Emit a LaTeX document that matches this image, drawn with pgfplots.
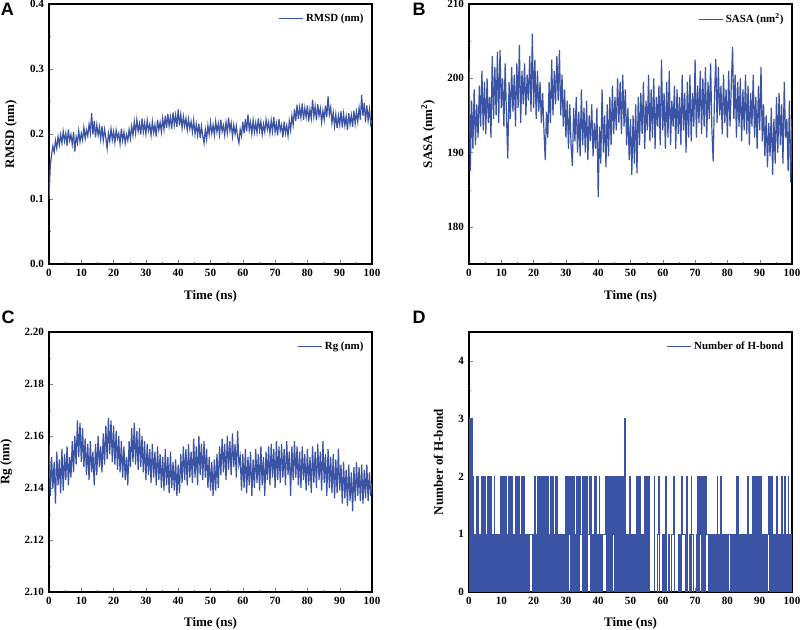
\documentclass[border=0pt]{standalone}
\usepackage{fontspec}
\setmainfont{Liberation Serif}
\newfontfamily\arial{Liberation Sans}
\usepackage{pgfplots}
\pgfplotsset{compat=1.18}
\definecolor{lblue}{RGB}{58,83,164}
\pgfplotsset{
 panel/.style={
  scale only axis, width=242.25pt, height=195pt, anchor=south west,
  xmin=0, xmax=100, xtick={0,10,20,30,40,50,60,70,80,90,100}, minor x tick num=1,
  tick align=inside, xtick pos=bottom, ytick pos=left,
  major tick length=3pt, minor tick length=1.6pt,
  line width=0.8pt,
  tick label style={font=\fontsize{8.3}{9}\selectfont\bfseries},
  /pgf/number format/assume math mode=true,
  label style={font=\fontsize{9.75}{11}\selectfont\bfseries},
  xlabel={Time (ns)},
  xlabel style={at={(axis description cs:0.5,-0.123)}, anchor=center},
  legend style={at={(1,1)}, anchor=north east, draw=none, fill=none,
    font=\fontsize{8.2}{9}\selectfont\bfseries, xshift=-1pt, yshift=-3pt},
  legend image code/.code={\draw[#1,line width=0.8pt] (0pt,0pt) -- (18pt,0pt);},
  scaled ticks=false,
 }
}
\begin{document}
\begin{tikzpicture}
\path[use as bounding box] (0,0) rectangle (600pt,-472.5pt);
\node[font=\arial\bfseries\fontsize{13.5}{14}\selectfont] at (5.6pt,-6.75pt) {A};
\node[font=\arial\bfseries\fontsize{13.5}{14}\selectfont] at (314.25pt,-6.75pt) {B};
\node[font=\arial\bfseries\fontsize{13.5}{14}\selectfont] at (6pt,-238pt) {C};
\node[font=\arial\bfseries\fontsize{13.5}{14}\selectfont] at (314.25pt,-238pt) {D};

% ---------------- A: RMSD
\begin{axis}[panel, at={(36.75pt,-198pt)},
  ymin=0, ymax=0.4, ytick={0,0.1,0.2,0.3,0.4}, minor y tick num=1,
  yticklabel style={/pgf/number format/.cd, fixed, fixed zerofill, precision=1},
  ylabel={RMSD (nm)}, ylabel style={at={(axis description cs:-0.1176,0.5)}, anchor=center}]
\addplot[lblue, line width=0.9pt] coordinates {
(0,0.100)(0.4,0.152)(0.8,0.168)(1.2,0.181)(1.6,0.172)(2,0.190)(2.4,0.178)(2.8,0.196)(3.2,0.183)(3.6,0.199)
(4,0.186)(4.4,0.204)(4.8,0.189)(5.2,0.201)(5.6,0.182)(6,0.207)(6.4,0.190)(6.8,0.199)(7.2,0.184)(7.6,0.203)
(8,0.173)(8.4,0.196)(8.8,0.186)(9.2,0.205)(9.6,0.188)(10,0.201)(10.4,0.191)(10.8,0.210)(11.2,0.193)(11.6,0.206)
(12,0.197)(12.4,0.215)(12.8,0.201)(13.2,0.232)(13.6,0.199)(14,0.220)(14.4,0.195)(14.8,0.214)(15.2,0.198)(15.6,0.211)
(16,0.192)(16.4,0.212)(16.8,0.190)(17.2,0.207)(17.6,0.194)(18,0.178)(18.4,0.201)(18.8,0.189)(19.2,0.208)(19.6,0.191)
(20,0.204)(20.4,0.187)(20.8,0.206)(21.2,0.193)(21.6,0.201)(22,0.185)(22.4,0.208)(22.8,0.190)(23.2,0.203)(23.6,0.186)
(24,0.199)(24.4,0.190)(24.8,0.207)(25.2,0.193)(25.6,0.212)(26,0.198)(26.4,0.219)(26.8,0.201)(27.2,0.222)(27.6,0.204)
(28,0.216)(28.4,0.199)(28.8,0.224)(29.2,0.203)(29.6,0.217)(30,0.200)(30.4,0.221)(30.8,0.205)(31.2,0.215)(31.6,0.198)
(32,0.219)(32.4,0.202)(32.8,0.214)(33.2,0.196)(33.6,0.222)(34,0.206)(34.4,0.218)(34.8,0.203)(35.2,0.224)(35.6,0.207)
(36,0.228)(36.4,0.209)(36.8,0.231)(37.2,0.212)(37.6,0.226)(38,0.208)(38.4,0.233)(38.8,0.214)(39.2,0.229)(39.6,0.211)
(40,0.238)(40.4,0.213)(40.8,0.230)(41.2,0.209)(41.6,0.227)(42,0.212)(42.4,0.224)(42.8,0.206)(43.2,0.223)(43.6,0.208)
(44,0.219)(44.4,0.203)(44.8,0.221)(45.2,0.200)(45.6,0.215)(46,0.198)(46.4,0.216)(46.8,0.194)(47.2,0.212)(47.6,0.197)
(48,0.186)(48.4,0.207)(48.8,0.192)(49.2,0.213)(49.6,0.199)(50,0.218)(50.4,0.201)(50.8,0.214)(51.2,0.198)(51.6,0.219)
(52,0.203)(52.4,0.216)(52.8,0.199)(53.2,0.222)(53.6,0.204)(54,0.213)(54.4,0.198)(54.8,0.218)(55.2,0.202)(55.6,0.225)
(56,0.205)(56.4,0.217)(56.8,0.196)(57.2,0.214)(57.6,0.200)(58,0.212)(58.4,0.195)(58.8,0.186)(59.2,0.207)(59.6,0.197)
(60,0.219)(60.4,0.201)(60.8,0.223)(61.2,0.204)(61.6,0.230)(62,0.206)(62.4,0.218)(62.8,0.200)(63.2,0.221)(63.6,0.203)
(64,0.217)(64.4,0.202)(64.8,0.224)(65.2,0.205)(65.6,0.219)(66,0.199)(66.4,0.215)(66.8,0.203)(67.2,0.222)(67.6,0.207)
(68,0.218)(68.4,0.201)(68.8,0.221)(69.2,0.204)(69.6,0.226)(70,0.203)(70.4,0.216)(70.8,0.198)(71.2,0.223)(71.6,0.205)
(72,0.214)(72.4,0.195)(72.8,0.219)(73.2,0.201)(73.6,0.213)(74,0.197)(74.4,0.220)(74.8,0.206)(75.2,0.228)(75.6,0.214)
(76,0.238)(76.4,0.220)(76.8,0.245)(77.2,0.223)(77.6,0.241)(78,0.225)(78.4,0.247)(78.8,0.222)(79.2,0.240)(79.6,0.226)
(80,0.244)(80.4,0.219)(80.8,0.238)(81.2,0.224)(81.6,0.253)(82,0.227)(82.4,0.242)(82.8,0.221)(83.2,0.246)(83.6,0.228)
(84,0.239)(84.4,0.218)(84.8,0.236)(85.2,0.222)(85.6,0.244)(86,0.226)(86.4,0.258)(86.8,0.230)(87.2,0.241)(87.6,0.217)
(88,0.233)(88.4,0.212)(88.8,0.230)(89.2,0.209)(89.6,0.228)(90,0.214)(90.4,0.235)(90.8,0.210)(91.2,0.231)(91.6,0.213)
(92,0.227)(92.4,0.206)(92.8,0.232)(93.2,0.215)(93.6,0.229)(94,0.211)(94.4,0.236)(94.8,0.216)(95.2,0.234)(95.6,0.219)
(96,0.240)(96.4,0.222)(96.8,0.260)(97.2,0.228)(97.6,0.248)(98,0.218)(98.4,0.244)(98.8,0.221)(99.2,0.238)(99.6,0.215)
(100,0.222)};
\addlegendentry{RMSD (nm)}
\end{axis}

% ---------------- B: SASA
\begin{axis}[panel, at={(351.75pt,-198pt)},
  ymin=175, ymax=210, ytick={180,190,200,210}, minor y tick num=1,
  ylabel={SASA (nm\textsuperscript{2})}, ylabel style={at={(axis description cs:-0.127,0.5)}, anchor=center}]
\addplot[lblue, line width=0.9pt] coordinates {
(0,202.5)(0.4,187.5)(0.8,197.0)(1.2,190.5)(1.6,198.5)(2,191.0)(2.4,196.5)(2.8,192.0)(3.2,199.0)(3.6,193.5)
(4,201.0)(4.4,193.0)(4.8,199.5)(5.2,192.5)(5.6,200.0)(6,194.0)(6.4,197.5)(6.8,192.0)(7.2,203.0)(7.6,194.5)
(8,201.5)(8.4,195.0)(8.8,203.6)(9.2,194.0)(9.6,203.8)(10,196.0)(10.4,200.0)(10.8,193.5)(11.2,202.0)(11.6,195.0)
(12,189.2)(12.4,199.5)(12.8,194.5)(13.2,201.5)(13.6,195.5)(14,200.5)(14.4,193.5)(14.8,202.0)(15.2,196.0)(15.6,204.5)
(16,194.0)(16.4,201.0)(16.8,196.5)(17.2,202.0)(17.6,195.0)(18,200.5)(18.4,197.0)(18.8,203.0)(19.2,195.5)(19.6,206.0)
(20,196.0)(20.4,202.5)(20.8,194.5)(21.2,201.0)(21.6,195.5)(22,199.5)(22.4,194.0)(22.8,198.0)(23.2,193.0)(23.6,189.0)
(24,195.5)(24.4,192.0)(24.8,199.5)(25.2,194.0)(25.6,202.5)(26,195.0)(26.4,201.0)(26.8,196.5)(27.2,203.0)(27.6,197.0)
(28,203.8)(28.4,195.0)(28.8,200.5)(29.2,193.5)(29.6,198.5)(30,192.0)(30.4,197.0)(30.8,190.5)(31.2,196.5)(31.6,191.0)
(32,188.2)(32.4,196.0)(32.8,191.5)(33.2,197.5)(33.6,190.0)(34,195.5)(34.4,189.5)(34.8,198.5)(35.2,191.0)(35.6,196.0)
(36,190.0)(36.4,197.0)(36.8,189.0)(37.2,195.0)(37.6,191.5)(38,196.5)(38.4,189.5)(38.8,194.0)(39.2,190.5)(39.6,196.0)
(40,184.0)(40.4,193.5)(40.8,188.5)(41.2,198.5)(41.6,190.0)(42,195.0)(42.4,188.0)(42.8,196.5)(43.2,189.5)(43.6,197.5)
(44,191.0)(44.4,199.0)(44.8,192.5)(45.2,197.5)(45.6,193.0)(46,200.0)(46.4,194.0)(46.8,199.5)(47.2,192.5)(47.6,200.5)
(48,193.5)(48.4,198.5)(48.8,191.0)(49.2,196.0)(49.6,189.0)(50,194.5)(50.4,187.0)(50.8,195.0)(51.2,188.5)(51.6,196.5)
(52,187.2)(52.4,197.5)(52.8,191.0)(53.2,198.0)(53.6,192.5)(54,199.5)(54.4,190.5)(54.8,197.0)(55.2,193.0)(55.6,200.5)
(56,191.5)(56.4,198.5)(56.8,192.0)(57.2,200.0)(57.6,190.5)(58,197.5)(58.4,193.5)(58.8,199.0)(59.2,191.0)(59.6,202.5)
(60,193.0)(60.4,198.0)(60.8,190.5)(61.2,199.5)(61.6,192.0)(62,201.0)(62.4,191.0)(62.8,197.0)(63.2,193.5)(63.6,199.0)
(64,190.5)(64.4,198.5)(64.8,192.5)(65.2,197.5)(65.6,191.0)(66,200.5)(66.4,193.0)(66.8,198.0)(67.2,190.0)(67.6,199.5)
(68,192.0)(68.4,200.5)(68.8,191.5)(69.2,198.0)(69.6,193.5)(70,202.5)(70.4,192.0)(70.8,199.0)(71.2,194.0)(71.6,201.0)
(72,192.5)(72.4,200.0)(72.8,193.5)(73.2,201.5)(73.6,192.0)(74,199.5)(74.4,194.5)(74.8,202.0)(75.2,193.0)(75.6,188.8)
(76,197.5)(76.4,202.6)(76.8,194.0)(77.2,201.5)(77.6,195.0)(78,199.0)(78.4,192.5)(78.8,200.5)(79.2,194.0)(79.6,198.5)
(80,192.0)(80.4,201.0)(80.8,193.5)(81.2,199.0)(81.6,204.2)(82,194.5)(82.4,200.5)(82.8,192.0)(83.2,199.5)(83.6,193.5)
(84,200.0)(84.4,191.5)(84.8,198.5)(85.2,193.0)(85.6,200.5)(86,192.5)(86.4,199.0)(86.8,191.0)(87.2,198.0)(87.6,193.5)
(88,200.5)(88.4,192.0)(88.8,197.5)(89.2,190.5)(89.6,199.0)(90,193.0)(90.4,201.5)(90.8,191.5)(91.2,196.5)(91.6,189.5)
(92,195.0)(92.4,188.0)(92.8,194.0)(93.2,189.5)(93.6,196.0)(94,187.0)(94.4,194.5)(94.8,188.5)(95.2,197.5)(95.6,190.0)
(96,198.0)(96.4,191.0)(96.8,196.5)(97.2,188.5)(97.6,199.5)(98,192.0)(98.4,194.5)(98.8,187.5)(99.2,197.0)(99.6,186.0)
(100,194.5)};
\addlegendentry{SASA (nm\textsuperscript{2})}
\end{axis}

% ---------------- C: Rg
\begin{axis}[panel, at={(36.75pt,-444pt)},
  ymin=2.10, ymax=2.20, ytick={2.10,2.12,2.14,2.16,2.18,2.20}, minor y tick num=1,
  yticklabel style={/pgf/number format/.cd, fixed, fixed zerofill, precision=2},
  xlabel style={at={(axis description cs:0.5,-0.119)}},
  ylabel={Rg (nm)}, ylabel style={at={(axis description cs:-0.132,0.5)}, anchor=center}]
\addplot[lblue, line width=0.9pt] coordinates {
(0,2.157)(0.4,2.137)(0.8,2.152)(1.2,2.140)(1.6,2.150)(2,2.134)(2.4,2.154)(2.8,2.141)(3.2,2.151)(3.6,2.138)
(4,2.155)(4.4,2.139)(4.8,2.153)(5.2,2.143)(5.6,2.156)(6,2.141)(6.4,2.152)(6.8,2.144)(7.2,2.158)(7.6,2.146)
(8,2.160)(8.4,2.149)(8.8,2.166)(9.2,2.152)(9.6,2.165)(10,2.150)(10.4,2.163)(10.8,2.148)(11.2,2.159)(11.6,2.145)
(12,2.157)(12.4,2.143)(12.8,2.158)(13.2,2.146)(13.6,2.154)(14,2.141)(14.4,2.157)(14.8,2.145)(15.2,2.160)(15.6,2.148)
(16,2.156)(16.4,2.146)(16.8,2.161)(17.2,2.149)(17.6,2.164)(18,2.151)(18.4,2.167)(18.8,2.153)(19.2,2.166)(19.6,2.150)
(20,2.164)(20.4,2.149)(20.8,2.162)(21.2,2.147)(21.6,2.160)(22,2.146)(22.4,2.158)(22.8,2.144)(23.2,2.156)(23.6,2.143)
(24,2.152)(24.4,2.141)(24.8,2.158)(25.2,2.148)(25.6,2.163)(26,2.150)(26.4,2.165)(26.8,2.149)(27.2,2.162)(27.6,2.147)
(28,2.163)(28.4,2.148)(28.8,2.160)(29.2,2.146)(29.6,2.158)(30,2.143)(30.4,2.157)(30.8,2.145)(31.2,2.155)(31.6,2.142)
(32,2.157)(32.4,2.144)(32.8,2.154)(33.2,2.141)(33.6,2.156)(34,2.143)(34.4,2.153)(34.8,2.140)(35.2,2.152)(35.6,2.139)
(36,2.155)(36.4,2.141)(36.8,2.152)(37.2,2.138)(37.6,2.154)(38,2.140)(38.4,2.150)(38.8,2.139)(39.2,2.151)(39.6,2.137)
(40,2.149)(40.4,2.138)(40.8,2.153)(41.2,2.142)(41.6,2.156)(42,2.143)(42.4,2.155)(42.8,2.141)(43.2,2.157)(43.6,2.144)
(44,2.154)(44.4,2.142)(44.8,2.159)(45.2,2.144)(45.6,2.156)(46,2.141)(46.4,2.160)(46.8,2.145)(47.2,2.157)(47.6,2.143)
(48,2.158)(48.4,2.144)(48.8,2.155)(49.2,2.140)(49.6,2.152)(50,2.139)(50.4,2.150)(50.8,2.137)(51.2,2.151)(51.6,2.139)
(52,2.153)(52.4,2.140)(52.8,2.156)(53.2,2.145)(53.6,2.159)(54,2.146)(54.4,2.157)(54.8,2.143)(55.2,2.160)(55.6,2.147)
(56,2.158)(56.4,2.145)(56.8,2.161)(57.2,2.148)(57.6,2.157)(58,2.144)(58.4,2.162)(58.8,2.149)(59.2,2.152)(59.6,2.139)
(60,2.153)(60.4,2.140)(60.8,2.155)(61.2,2.138)(61.6,2.152)(62,2.141)(62.4,2.154)(62.8,2.137)(63.2,2.151)(63.6,2.140)
(64,2.155)(64.4,2.142)(64.8,2.153)(65.2,2.139)(65.6,2.156)(66,2.141)(66.4,2.152)(66.8,2.137)(67.2,2.154)(67.6,2.143)
(68,2.156)(68.4,2.141)(68.8,2.157)(69.2,2.144)(69.6,2.155)(70,2.140)(70.4,2.158)(70.8,2.143)(71.2,2.156)(71.6,2.142)
(72,2.157)(72.4,2.144)(72.8,2.155)(73.2,2.141)(73.6,2.158)(74,2.145)(74.4,2.154)(74.8,2.137)(75.2,2.156)(75.6,2.143)
(76,2.158)(76.4,2.144)(76.8,2.156)(77.2,2.141)(77.6,2.154)(78,2.140)(78.4,2.156)(78.8,2.143)(79.2,2.153)(79.6,2.139)
(80,2.155)(80.4,2.141)(80.8,2.152)(81.2,2.138)(81.6,2.156)(82,2.142)(82.4,2.154)(82.8,2.140)(83.2,2.157)(83.6,2.143)
(84,2.154)(84.4,2.139)(84.8,2.158)(85.2,2.142)(85.6,2.153)(86,2.137)(86.4,2.155)(86.8,2.140)(87.2,2.152)(87.6,2.138)
(88,2.153)(88.4,2.136)(88.8,2.151)(89.2,2.138)(89.6,2.155)(90,2.139)(90.4,2.149)(90.8,2.134)(91.2,2.150)(91.6,2.136)
(92,2.147)(92.4,2.133)(92.8,2.149)(93.2,2.135)(93.6,2.146)(94,2.131)(94.4,2.148)(94.8,2.135)(95.2,2.150)(95.6,2.137)
(96,2.148)(96.4,2.135)(96.8,2.149)(97.2,2.134)(97.6,2.147)(98,2.136)(98.4,2.149)(98.8,2.135)(99.2,2.146)(99.6,2.137)
(100,2.142)};
\addlegendentry{Rg (nm)}
\end{axis}

% ---------------- D: H-bond
\begin{axis}[panel, at={(351.75pt,-444pt)},
  ymin=0, ymax=4.5, ytick={0,1,2,3,4}, minor y tick num=1,
  xlabel style={at={(axis description cs:0.5,-0.119)}},
  ylabel={Number of H-bond}, ylabel style={at={(axis description cs:-0.095,0.5)}, anchor=center}]
\addplot[lblue, line width=0.6pt, const plot] coordinates {
(0,0)(0.25,3)(0.5,0)(0.75,3)(1,0)(1.25,2)(1.5,0)(1.75,1)
(2,0)(2.25,2)(2.5,0)(2.75,2)(3,0)(3.25,1)(3.5,0)(3.75,2)
(4,0)(4.25,2)(4.5,0)(4.75,2)(5,0)(5.25,1)(5.5,0)(5.75,2)
(6,0)(6.25,2)(6.5,0)(6.75,2)(7,0)(7.25,1)(7.5,0)(7.75,2)
(8,0)(8.25,1)(8.5,0)(8.75,1)(9,0)(9.25,1)(9.5,0)(9.75,2)
(10,0)(10.25,2)(10.5,0)(10.75,2)(11,0)(11.25,2)(11.5,0)(11.75,1)
(12,0)(12.25,2)(12.5,0)(12.75,2)(13,0)(13.25,2)(13.5,0)(13.75,1)
(14,0)(14.25,2)(14.5,0)(14.75,2)(15,0)(15.25,2)(15.5,0)(15.75,1)
(16,0)(16.25,2)(16.5,0)(16.75,2)(17,0)(17.25,1)(17.5,0)(17.75,1)
(18,0)(18.25,1)(18.5,0)(18.75,1)(19,1)(19.25,1)(19.5,0)(19.75,1)
(20,0)(20.25,2)(20.5,0)(20.75,1)(21,0)(21.25,2)(21.5,0)(21.75,2)
(22,0)(22.25,2)(22.5,0)(22.75,2)(23,0)(23.25,2)(23.5,0)(23.75,2)
(24,0)(24.25,2)(24.5,0)(24.75,1)(25,0)(25.25,2)(25.5,0)(25.75,2)
(26,0)(26.25,1)(26.5,0)(26.75,2)(27,0)(27.25,2)(27.5,0)(27.75,1)
(28,0)(28.25,1)(28.5,0)(28.75,1)(29,0)(29.25,1)(29.5,0)(29.75,2)
(30,0)(30.25,2)(30.5,0)(30.75,2)(31,1)(31.25,2)(31.5,0)(31.75,2)
(32,0)(32.25,2)(32.5,0)(32.75,1)(33,0)(33.25,2)(33.5,0)(33.75,2)
(34,0)(34.25,2)(34.5,1)(34.75,1)(35,0)(35.25,2)(35.5,0)(35.75,2)
(36,0)(36.25,2)(36.5,0)(36.75,1)(37,1)(37.25,2)(37.5,0)(37.75,2)
(38,0)(38.25,1)(38.5,0)(38.75,2)(39,0)(39.25,2)(39.5,0)(39.75,1)
(40,0)(40.25,2)(40.5,0)(40.75,1)(41,0)(41.25,1)(41.5,1)(41.75,1)
(42,1)(42.25,2)(42.5,0)(42.75,2)(43,0)(43.25,2)(43.5,0)(43.75,2)
(44,0)(44.25,2)(44.5,1)(44.75,2)(45,0)(45.25,2)(45.5,0)(45.75,2)
(46,0)(46.25,2)(46.5,0)(46.75,2)(47,0)(47.25,2)(47.5,0)(47.75,2)
(48,0)(48.25,3)(48.5,0)(48.75,1)(49,0)(49.25,1)(49.5,0)(49.75,2)
(50,0)(50.25,1)(50.5,0)(50.75,1)(51,0)(51.25,1)(51.5,0)(51.75,2)
(52,0)(52.25,2)(52.5,0)(52.75,2)(53,0)(53.25,1)(53.5,0)(53.75,1)
(54,0)(54.25,2)(54.5,0)(54.75,2)(55,0)(55.25,2)(55.5,0)(55.75,2)
(56,0)(56.25,0)(56.5,0)(56.75,0)(57,0)(57.25,2)(57.5,0)(57.75,0)
(58,0)(58.25,1)(58.5,1)(58.75,2)(59,0)(59.25,0)(59.5,0)(59.75,1)
(60,0)(60.25,1)(60.5,0)(60.75,2)(61,0)(61.25,0)(61.5,0)(61.75,1)
(62,0)(62.25,0)(62.5,0)(62.75,1)(63,1)(63.25,2)(63.5,0)(63.75,0)
(64,0)(64.25,0)(64.5,0)(64.75,1)(65,0)(65.25,1)(65.5,0)(65.75,2)
(66,1)(66.25,1)(66.5,1)(66.75,1)(67,0)(67.25,2)(67.5,0)(67.75,0)
(68,0)(68.25,1)(68.5,0)(68.75,2)(69,1)(69.25,1)(69.5,0)(69.75,0)
(70,0)(70.25,1)(70.5,0)(70.75,2)(71,0)(71.25,2)(71.5,1)(71.75,2)
(72,0)(72.25,2)(72.5,0)(72.75,2)(73,0)(73.25,2)(73.5,1)(73.75,1)
(74,0)(74.25,1)(74.5,0)(74.75,1)(75,0)(75.25,1)(75.5,0)(75.75,1)
(76,0)(76.25,1)(76.5,0)(76.75,2)(77,0)(77.25,1)(77.5,0)(77.75,2)
(78,0)(78.25,1)(78.5,0)(78.75,1)(79,0)(79.25,1)(79.5,0)(79.75,1)
(80,0)(80.25,1)(80.5,1)(80.75,1)(81,0)(81.25,1)(81.5,0)(81.75,1)
(82,0)(82.25,1)(82.5,0)(82.75,2)(83,0)(83.25,2)(83.5,0)(83.75,1)
(84,0)(84.25,1)(84.5,0)(84.75,1)(85,0)(85.25,1)(85.5,0)(85.75,1)
(86,0)(86.25,2)(86.5,0)(86.75,1)(87,0)(87.25,1)(87.5,0)(87.75,2)
(88,0)(88.25,2)(88.5,0)(88.75,2)(89,0)(89.25,2)(89.5,0)(89.75,2)
(90,0)(90.25,2)(90.5,0)(90.75,1)(91,0)(91.25,1)(91.5,0)(91.75,1)
(92,0)(92.25,1)(92.5,1)(92.75,2)(93,0)(93.25,2)(93.5,0)(93.75,2)
(94,0)(94.25,1)(94.5,0)(94.75,1)(95,0)(95.25,2)(95.5,0)(95.75,1)
(96,0)(96.25,1)(96.5,0)(96.75,2)(97,0)(97.25,1)(97.5,0)(97.75,2)
(98,0)(98.25,1)(98.5,0)(98.75,2)(99,0)(99.25,1)(99.5,0)(99.75,1)
(100,3)};
\addlegendentry{Number of H-bond}
\end{axis}
\end{tikzpicture}
\end{document}
